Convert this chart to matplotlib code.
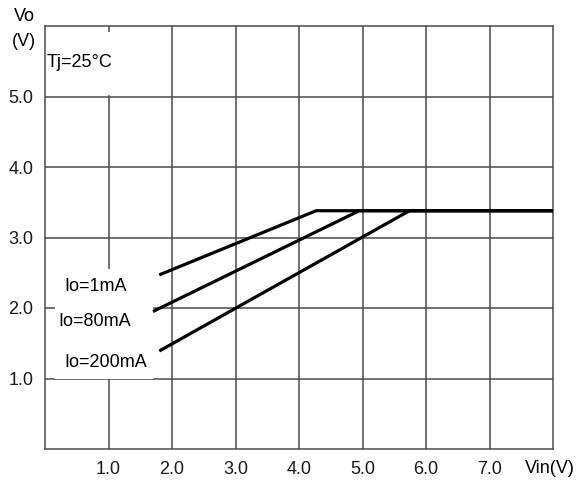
import matplotlib
matplotlib.use("Agg")
import matplotlib.pyplot as plt
from matplotlib.patches import Rectangle

# Output voltage vs input voltage, Tj = 25 degC
vin_1ma = [1.80, 4.27, 8.0]
vo_1ma = [2.47, 3.38, 3.38]
vin_80ma = [1.70, 4.95, 8.0]
vo_80ma = [1.95, 3.38, 3.38]
vin_200ma = [1.80, 5.74, 8.0]
vo_200ma = [1.39, 3.38, 3.38]

x_ticks = [1, 2, 3, 4, 5, 6, 7]
x_labels = ["1.0", "2.0", "3.0", "4.0", "5.0", "6.0", "7.0"]
y_ticks = [1, 2, 3, 4, 5]
y_labels = ["1.0", "2.0", "3.0", "4.0", "5.0"]

plt.rcParams['font.family'] = ['Liberation Sans', 'DejaVu Sans']

fig = plt.figure(figsize=(5.79, 4.82), dpi=100)
ax = fig.add_axes([45 / 579, 33 / 482, 508 / 579, 423 / 482])

ax.set_xlim(0, 8)
ax.set_ylim(0, 6)

grid_color = '#4a4a4a'
for x in x_ticks:
    ax.axvline(x, color=grid_color, lw=1.1, zorder=1)
for y in y_ticks:
    ax.axhline(y, color=grid_color, lw=1.1, zorder=1)

for s in ax.spines.values():
    s.set_color(grid_color)
    s.set_linewidth(1.1)

# white boxes behind the labels
ax.add_patch(Rectangle((0.16, 1.0), 1.54, 1.55, facecolor='white',
                       edgecolor='none', zorder=2))
ax.add_patch(Rectangle((0.0, 5.02), 1.2, 0.9, facecolor='white',
                       edgecolor='none', zorder=2))

for vin, vo in [(vin_1ma, vo_1ma), (vin_80ma, vo_80ma), (vin_200ma, vo_200ma)]:
    ax.plot(vin, vo, color='black', lw=2.3, solid_capstyle='butt', zorder=3)

fs = 13
ax.text(0.79, 2.30, "Io=1mA", ha='center', va='center', fontsize=fs, zorder=4)
ax.text(0.79, 1.81, "Io=80mA", ha='center', va='center', fontsize=fs, zorder=4)
ax.text(0.96, 1.22, "Io=200mA", ha='center', va='center', fontsize=fs, zorder=4)
ax.text(0.02, 5.48, "Tj=25°C", ha='left', va='center', fontsize=fs, zorder=4)

ax.set_xticks(x_ticks)
ax.set_xticklabels(x_labels, fontsize=fs)
ax.set_yticks(y_ticks)
ax.set_yticklabels(y_labels, fontsize=fs)
ax.tick_params(axis='both', length=0, colors='#1a1a1a')
ax.tick_params(axis='x', pad=9)
ax.tick_params(axis='y', pad=8.5)

ax.text(7.95, -0.27, "Vin(V)", ha='center', va='center', fontsize=fs,
        clip_on=False)
ax.text(-0.33, 6.13, "Vo", ha='center', va='center', fontsize=fs,
        clip_on=False)
ax.text(-0.33, 5.78, "(V)", ha='center', va='center', fontsize=fs,
        clip_on=False)

fig.savefig("out.png", dpi=100, facecolor='white')
